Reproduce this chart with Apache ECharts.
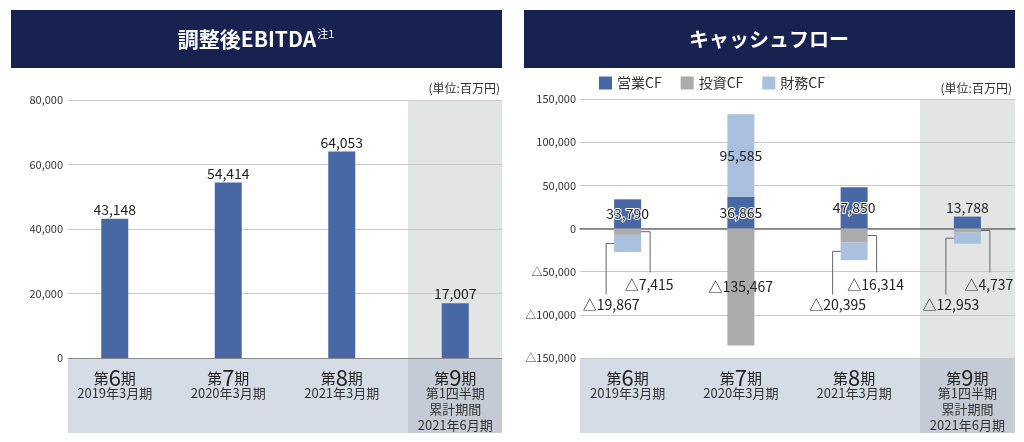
<!DOCTYPE html>
<html>
<head>
<meta charset="utf-8">
<script src="https://cdn.jsdelivr.net/npm/echarts@6/dist/echarts.min.js"></script>
<style>
  html, body { margin: 0; padding: 0; background: #fff; }
  #charts { width: 1024px; height: 442px; }
</style>
</head>
<body>
<div id="charts"></div>
<script>
// data
const periods = ["第6期", "第7期", "第8期", "第9期"];
const periodSubs = [
  ["2019年3月期"],
  ["2020年3月期"],
  ["2021年3月期"],
  ["第1四半期", "累計期間", "2021年6月期"],
];
const ebitda = [43148, 54414, 64053, 17007];
const operatingCF = [33790, 36865, 47850, 13788];
const investingCF = [-7415, -135467, -16314, -4737];
const financingCF = [-19867, 95585, -20395, -12953];
const ebitdaTicks = [0, 20000, 40000, 60000, 80000];
const cfTicks = [-150000, -100000, -50000, 0, 50000, 100000, 150000];
const cfNames = ["営業CF", "投資CF", "財務CF"];

const FONT = '"Noto Sans CJK JP", sans-serif';
const colors = {
  navy: "#172251",
  blue: "#4768a4",
  gray: "#ababab",
  light: "#a9c1df",
  band: "#d5dce6",
  bandDark: "#c4cbd5",
  shade: "#e3e5e5",
  grid: "#c9c9c9",
  text: "#222",
};
const BAR_W = 27;
const INSIDE_MIN = 50000; // segments smaller than this get a callout

function fmt(v) {
  return (v < 0 ? "△" : "") + Math.abs(v).toLocaleString("en-US");
}

function periodLabel(value, index) {
  let num = value.replace("第", "").replace("期", "");
  let s = "{a|第}{b|" + num + "}{a|期}";
  periodSubs[index].forEach(function (t) {
    s += "\n{c|" + t + "}";
  });
  return s;
}

const periodAxisLabel = {
  interval: 0,
  margin: 13,
  formatter: periodLabel,
  rich: {
    a: { fontSize: 15, color: colors.text, lineHeight: 14, fontFamily: FONT },
    b: { fontSize: 22, color: colors.text, lineHeight: 14, fontFamily: FONT },
    c: { fontSize: 13, color: "#333", lineHeight: 16, fontFamily: FONT },
  },
};

function calloutItem(params, api) {
  let i = api.value(0);
  let inv = api.value(1);
  let fin = api.value(2);
  let zero = api.coord([i, 0]);
  let cx = zero[0];
  let half = BAR_W / 2;
  let children = [];
  let lineStyle = { stroke: "#666", lineWidth: 1, fill: null };
  let textStyle = function (t) {
    return { text: t, fill: colors.text, fontSize: 14, fontFamily: FONT, align: "center", verticalAlign: "middle" };
  };
  if (inv < 0 && -inv < INSIDE_MIN) {
    let p = api.coord([i, inv / 2]);
    let x1 = cx + half + 9;
    children.push({ type: "polyline", shape: { points: [[cx + half, p[1]], [x1, p[1]], [x1, zero[1] + 44]] }, style: lineStyle });
    children.push({ type: "text", x: x1 - 1, y: zero[1] + 56, style: textStyle(fmt(inv)) });
  }
  if (fin < 0) {
    let base = Math.min(inv, 0);
    let p = api.coord([i, base + fin / 2]);
    let x1 = cx - half - 8;
    children.push({ type: "polyline", shape: { points: [[cx - half, p[1]], [x1, p[1]], [x1, zero[1] + 66]] }, style: lineStyle });
    children.push({ type: "text", x: x1 + 5, y: zero[1] + 76, style: textStyle(fmt(fin)) });
  }
  return { type: "group", children: children };
}

let chartDom = document.getElementById("charts");
let myChart = echarts.init(chartDom);

function rect(x, y, w, h, fill) {
  return { type: "rect", z: -10, shape: { x: x, y: y, width: w, height: h }, style: { fill: fill }, silent: true };
}

let option = {
  animation: false,
  textStyle: { fontFamily: FONT },
  graphic: [
    rect(11, 10, 491, 58, colors.navy),
    rect(524, 10, 491, 58, colors.navy),
    {
      type: "text", x: 256, y: 39, z: 10,
      style: {
        text: "{t|調整後EBITDA}{s|注1}",
        align: "center", verticalAlign: "middle",
        rich: {
          t: { fontSize: 21, fontWeight: "bold", fill: "#fff", fontFamily: FONT, lineHeight: 24 },
          s: { fontSize: 11, fill: "#fff", fontFamily: FONT, verticalAlign: "top", lineHeight: 14, padding: [1, 0, 0, 1] },
        },
      },
    },
    {
      type: "text", x: 769, y: 39, z: 10,
      style: { text: "キャッシュフロー", fill: "#fff", fontSize: 20, fontWeight: "bold", fontFamily: FONT, align: "center", verticalAlign: "middle" },
    },
    { type: "text", x: 500, y: 88, style: { text: "(単位:百万円)", fill: "#333", fontSize: 12, fontFamily: FONT, align: "right", verticalAlign: "middle" } },
    { type: "text", x: 1012, y: 88, style: { text: "(単位:百万円)", fill: "#333", fontSize: 12, fontFamily: FONT, align: "right", verticalAlign: "middle" } },
    // shaded quarter column + period label bands
    rect(408, 100, 94, 258, colors.shade),
    rect(68, 358, 340, 75, colors.band),
    rect(408, 358, 94, 75, colors.bandDark),
    rect(920, 99, 95, 259, colors.shade),
    rect(580, 358, 340, 75, colors.band),
    rect(920, 358, 95, 75, colors.bandDark),
  ],
  legend: {
    data: cfNames,
    left: 594,
    top: 71,
    icon: "rect",
    itemWidth: 13,
    itemHeight: 13,
    itemGap: 19,
    textStyle: { fontSize: 14, color: "#333", fontFamily: FONT },
  },
  grid: [
    { left: 68, top: 100, width: 434, height: 258 },
    { left: 58, top: 100, width: 454, height: 258 },
    { left: 580, top: 99, width: 435, height: 259 },
    { left: 571, top: 99, width: 454, height: 259 },
  ],
  xAxis: [
    {
      gridIndex: 0, type: "value", min: 0, max: 1,
      axisLabel: { show: false }, axisTick: { show: false }, splitLine: { show: false },
      axisLine: { show: true, lineStyle: { color: "#8a8a8a", width: 1 } },
    },
    {
      gridIndex: 1, type: "category", data: periods,
      axisLine: { show: false, onZero: false }, axisTick: { show: false },
      axisLabel: periodAxisLabel,
    },
    {
      gridIndex: 2, type: "value", min: 0, max: 1,
      axisLabel: { show: false }, axisTick: { show: false }, splitLine: { show: false },
      axisLine: { show: true, onZero: true, lineStyle: { color: "#707070", width: 1.5 } },
    },
    {
      gridIndex: 3, type: "category", data: periods,
      axisLine: { show: false, onZero: false }, axisTick: { show: false },
      axisLabel: periodAxisLabel,
    },
  ],
  yAxis: [
    {
      gridIndex: 0, type: "value",
      min: ebitdaTicks[0], max: ebitdaTicks[ebitdaTicks.length - 1], interval: ebitdaTicks[1] - ebitdaTicks[0],
      axisLine: { show: false }, axisTick: { show: false },
      axisLabel: { margin: 5, fontSize: 11, color: "#333", formatter: fmt },
      splitLine: { lineStyle: { color: colors.grid, width: 1 } },
    },
    {
      gridIndex: 1, type: "value", show: false,
      min: ebitdaTicks[0], max: ebitdaTicks[ebitdaTicks.length - 1],
    },
    {
      gridIndex: 2, type: "value",
      min: cfTicks[0], max: cfTicks[cfTicks.length - 1], interval: cfTicks[1] - cfTicks[0],
      axisLine: { show: false }, axisTick: { show: false },
      axisLabel: { margin: 4, fontSize: 11, color: "#333", formatter: fmt },
      splitLine: { lineStyle: { color: colors.grid, width: 1 } },
    },
    {
      gridIndex: 3, type: "value", show: false,
      min: cfTicks[0], max: cfTicks[cfTicks.length - 1],
    },
  ],
  series: [
    {
      name: "調整後EBITDA",
      type: "bar",
      xAxisIndex: 1,
      yAxisIndex: 1,
      barWidth: BAR_W,
      data: ebitda,
      itemStyle: { color: colors.blue },
      label: { show: true, position: "top", distance: 2, fontSize: 14, color: colors.text, formatter: function (p) { return fmt(p.value); } },
    },
    {
      name: cfNames[0],
      type: "bar",
      stack: "cf",
      xAxisIndex: 3,
      yAxisIndex: 3,
      barWidth: BAR_W,
      itemStyle: { color: colors.blue },
      data: operatingCF.map(function (v) {
        // small bars carry their label on top
        return v < 20000 ? { value: v, label: { position: "top", distance: 2, textBorderWidth: 0 } } : v;
      }),
      label: {
        show: true, position: "inside", fontSize: 14, color: colors.text,
        textBorderColor: "#fff", textBorderWidth: 2,
        formatter: function (p) { return fmt(p.value); },
      },
    },
    {
      name: cfNames[1],
      type: "bar",
      stack: "cf",
      xAxisIndex: 3,
      yAxisIndex: 3,
      barWidth: BAR_W,
      itemStyle: { color: colors.gray },
      data: investingCF.map(function (v) {
        return { value: v, label: { show: Math.abs(v) >= INSIDE_MIN } };
      }),
      label: { position: "inside", fontSize: 14, color: colors.text, formatter: function (p) { return fmt(p.value); } },
    },
    {
      name: cfNames[2],
      type: "bar",
      stack: "cf",
      xAxisIndex: 3,
      yAxisIndex: 3,
      barWidth: BAR_W,
      itemStyle: { color: colors.light },
      data: financingCF.map(function (v) {
        return { value: v, label: { show: v > 0 } };
      }),
      label: { position: "inside", fontSize: 14, color: colors.text, formatter: function (p) { return fmt(p.value); } },
    },
    {
      type: "custom",
      xAxisIndex: 3,
      yAxisIndex: 3,
      z: 5,
      silent: true,
      encode: { x: 0, y: 1 },
      data: periods.map(function (p, i) { return [i, investingCF[i], financingCF[i]]; }),
      renderItem: calloutItem,
    },
  ],
};

option && myChart.setOption(option);
</script>
</body>
</html>
